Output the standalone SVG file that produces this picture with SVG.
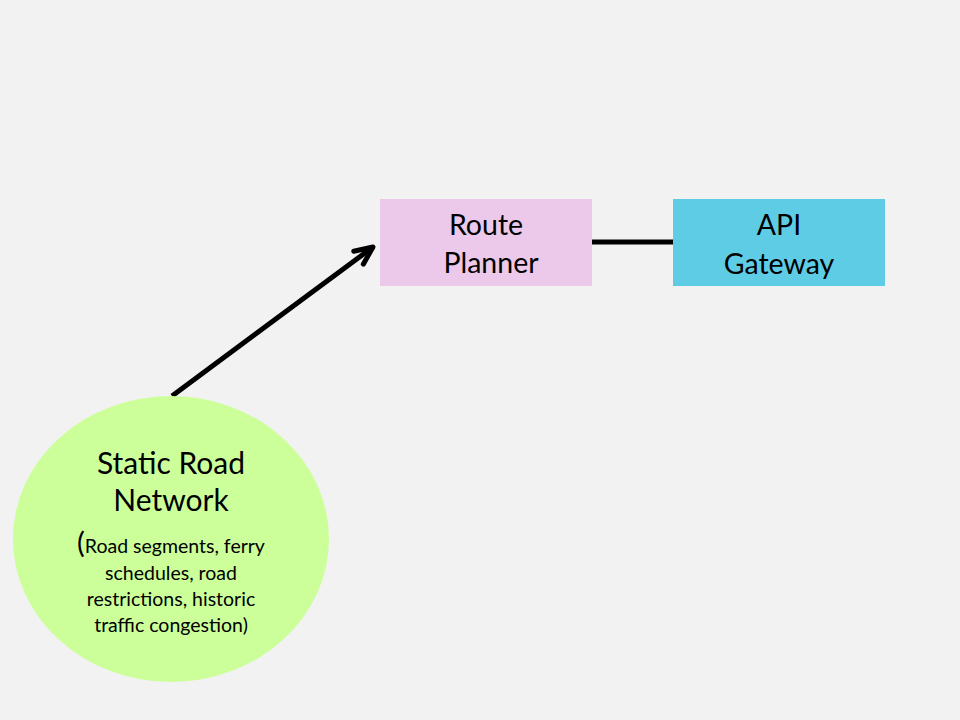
<svg xmlns="http://www.w3.org/2000/svg" width="960" height="720" viewBox="0 0 960 720">
<style>
.t{font-family:"Lato","Open Sans","Liberation Sans",sans-serif;fill:#000;text-anchor:middle}
.big{font-size:28.5px}
.sm{font-size:19.5px}
.conn{stroke:#000;stroke-width:5;fill:none;stroke-linecap:butt}
</style>
<defs>
<marker id="arr" markerWidth="10" markerHeight="10" refX="7" refY="5" orient="auto" markerUnits="userSpaceOnUse" overflow="visible">
<polyline points="-18,-8 0,0 -18,8" transform="translate(7,5)" fill="none" stroke="#000" stroke-width="5" stroke-linecap="round" stroke-linejoin="round"/>
</marker>
</defs>
<rect width="960" height="720" fill="#f2f2f2"/>
<g id="connectors">
<line class="conn" x1="172" y1="396" x2="373" y2="247" marker-end="url(#arr)"/>
<line class="conn" x1="592" y1="242" x2="673" y2="242"/>
</g>
<g id="route-planner">
<rect x="380" y="199" width="212" height="87" fill="#ecc9ea"/>
<text class="t big" x="486" y="235">Route</text>
<text class="t big" x="491" y="273">Planner</text>
</g>
<g id="api-gateway">
<rect x="673" y="199" width="212" height="87" fill="#5fcce6"/>
<text class="t big" x="779" y="235">API</text>
<text class="t big" x="779" y="274">Gateway</text>
</g>
<g id="static-road-network">
<ellipse cx="171" cy="539" rx="158" ry="143" fill="#ccff99"/>
<text class="t" style="font-size:30px" x="171" y="474">Static Road</text>
<text class="t" style="font-size:30px" x="171" y="511">Network</text>
<text class="t sm" x="171" y="553"><tspan style="font-size:29px">(</tspan>Road segments, ferry</text>
<text class="t sm" x="171" y="580">schedules, road</text>
<text class="t sm" x="171" y="606">restrictions, historic</text>
<text class="t sm" x="171" y="632">traffic  congestion)</text>
</g>
</svg>
